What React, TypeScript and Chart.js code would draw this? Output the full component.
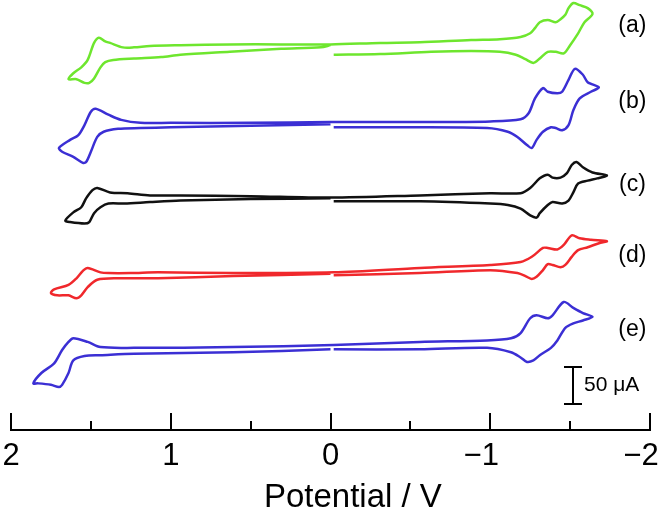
import React, { useEffect, useRef } from 'react';
import { Chart, registerables } from 'chart.js';

Chart.register(...registerables);

const FONT = "'Liberation Sans', Arial, Helvetica, sans-serif";

// Potentials (V) and currents (µA, relative to each trace's baseline)
const E_A = [-0.02,-0.31,-0.63,-0.88,-1.06,-1.16,-1.22,-1.27,-1.31,-1.36,-1.41,-1.46,-1.50,-1.55,-1.59,-1.64,-1.61,-1.56,-1.52,-1.49,-1.47,-1.44,-1.41,-1.36,-1.31,-1.28,-1.25,-1.19,-1.06,-0.88,-0.56,-0.31,0,0.31,0.63,0.94,1.13,1.23,1.30,1.38,1.41,1.45,1.48,1.52,1.56,1.61,1.64,1.59,1.54,1.51,1.48,1.44,1.41,1.36,1.23,1.06,0.94,0.63,0.31,0.06,0];
const I_A = [-9,-8,-5,-4,-5,-9,-15,-20,-14,-5,-5,-7,4,20,35,46,54,58,61,54,45,39,35,38,35,27,20,15,12,11,8,7,5,5,5,4,3,1,1,7,9,14,7,-16,-26,-34,-42,-42,-47,-47,-41,-26,-19,-16,-14,-12,-9,-5,-1,1,4];

const E_B = [-0.02,-0.44,-0.98,-1.11,-1.17,-1.23,-1.26,-1.29,-1.33,-1.38,-1.41,-1.45,-1.49,-1.52,-1.56,-1.63,-1.68,-1.61,-1.58,-1.53,-1.49,-1.45,-1.42,-1.36,-1.33,-1.28,-1.24,-1.19,-1.00,-0.56,0,0.50,1.00,1.19,1.31,1.39,1.47,1.50,1.54,1.58,1.63,1.70,1.68,1.61,1.55,1.53,1.50,1.46,1.42,1.33,1.19,1.00,0.50,0];
const I_B = [-3,-3,-4,-9,-16,-27,-31,-20,-9,-3,-4,-7,0,20,36,45,51,58,68,76,61,45,43,45,50,36,16,8,5,4,4,3,3,3,7,14,22,18,0,-14,-20,-31,-36,-43,-51,-50,-36,-16,-9,-5,-4,-3,-1,1];

const E_C = [-0.02,-0.56,-1.00,-1.11,-1.19,-1.25,-1.29,-1.31,-1.36,-1.39,-1.45,-1.49,-1.52,-1.55,-1.61,-1.67,-1.73,-1.64,-1.58,-1.54,-1.51,-1.48,-1.44,-1.39,-1.36,-1.31,-1.25,-1.19,-1.00,-0.56,0,0.50,0.94,1.13,1.27,1.38,1.46,1.49,1.53,1.56,1.61,1.66,1.63,1.54,1.51,1.48,1.44,1.39,1.29,1.13,0.94,0.50,0];
const I_C = [-4,-4,-7,-9,-14,-23,-26,-20,-9,-5,-7,-3,8,20,24,27,31,35,42,49,45,34,28,28,32,27,14,7,7,4,1,3,4,4,7,8,14,11,0,-12,-19,-30,-32,-34,-32,-20,-12,-7,-7,-5,-3,-1,0];

const E_D = [-0.02,-0.56,-1.00,-1.17,-1.23,-1.26,-1.29,-1.33,-1.36,-1.39,-1.44,-1.47,-1.51,-1.55,-1.61,-1.69,-1.73,-1.63,-1.56,-1.51,-1.46,-1.42,-1.36,-1.33,-1.26,-1.19,-1.00,-0.56,-0.02,0.61,1.08,1.25,1.39,1.44,1.52,1.55,1.59,1.64,1.73,1.75,1.71,1.64,1.59,1.56,1.52,1.46,1.33,1.08,0.61,0];
const I_D = [-3,0,4,0,-5,-8,-5,4,12,11,8,11,22,31,35,41,43,45,47,51,38,32,34,34,22,15,11,7,1,0,1,0,0,1,7,3,-7,-16,-22,-27,-30,-30,-34,-30,-19,-9,-7,-7,-4,-1];

const E_E = [-0.02,-0.56,-0.98,-1.13,-1.19,-1.23,-1.27,-1.31,-1.38,-1.42,-1.47,-1.52,-1.58,-1.64,-1.58,-1.52,-1.46,-1.39,-1.36,-1.29,-1.25,-1.19,-1.13,-0.98,-0.56,-0.02,0.61,1.23,1.44,1.52,1.61,1.64,1.68,1.73,1.81,1.86,1.83,1.75,1.70,1.68,1.64,1.61,1.54,1.44,1.23,0.61,0];
const I_E = [-3,-3,-1,-7,-14,-20,-18,-11,-1,9,26,32,36,41,46,53,61,43,39,43,39,19,12,9,7,3,0,-1,0,7,12,7,-4,-22,-35,-49,-49,-51,-54,-51,-35,-18,-12,-11,-9,-7,-3];

const TRACE_NAMES = ['(a)', '(b)', '(c)', '(d)', '(e)'];
const TRACE_E = [E_A, E_B, E_C, E_D, E_E];
const TRACE_I = [I_A, I_B, I_C, I_D, I_E];
const TRACE_OFFSETS = [516, 412, 313, 212, 112];
const TRACE_COLORS = ['#6ee62e', '#3b2fd4', '#111111', '#f0282c', '#3b2fd4'];

const LABEL_E = -1.89;
const LABEL_Y = [547, 443, 331, 235, 135];

const MAJOR_TICKS = [2, 1, 0, -1, -2];
const MINOR_TICKS = [1.5, 0.5, -0.5, -1.5];
const X_TITLE = 'Potential / V';
const X_TITLE_E = -0.14;

const SCALE_BAR_E = -1.52;
const SCALE_BAR_BOTTOM = 35;
const SCALE_BAR_SIZE = 50;
const SCALE_BAR_TEXT = '50 μA';

const Y_MAX = 581;

const decorPlugin = {
  id: 'decor',
  afterDraw(chart: any) {
    const { ctx, chartArea, scales } = chart;
    const xs = scales.x;
    const ys = scales.y;
    ctx.save();
    ctx.strokeStyle = '#000';
    ctx.fillStyle = '#000';
    ctx.lineWidth = 2;
    const b = chartArea.bottom;
    // tick marks (pointing up into the plot)
    MAJOR_TICKS.forEach((v) => {
      const x = Math.round(xs.getPixelForValue(v));
      ctx.beginPath();
      ctx.moveTo(x, b);
      ctx.lineTo(x, b - 17);
      ctx.stroke();
    });
    MINOR_TICKS.forEach((v) => {
      const x = Math.round(xs.getPixelForValue(v));
      ctx.beginPath();
      ctx.moveTo(x, b);
      ctx.lineTo(x, b - 9);
      ctx.stroke();
    });
    // tick labels: digit centred on tick, minus sign hanging left
    ctx.font = `31px ${FONT}`;
    ctx.textBaseline = 'alphabetic';
    ctx.textAlign = 'left';
    MAJOR_TICKS.forEach((v) => {
      const x = xs.getPixelForValue(v);
      const digits = String(Math.abs(v));
      const label = v < 0 ? '\u2212' + digits : digits;
      const wd = ctx.measureText(digits).width;
      const wl = ctx.measureText(label).width;
      ctx.fillText(label, x + wd / 2 - wl, b + 35);
    });
    // axis title
    ctx.font = `33px ${FONT}`;
    ctx.textAlign = 'center';
    ctx.fillText(X_TITLE, xs.getPixelForValue(X_TITLE_E), b + 77);
    // scale bar
    const sx = Math.round(xs.getPixelForValue(SCALE_BAR_E));
    const y1 = ys.getPixelForValue(SCALE_BAR_BOTTOM);
    const y2 = ys.getPixelForValue(SCALE_BAR_BOTTOM + SCALE_BAR_SIZE);
    ctx.beginPath();
    ctx.moveTo(sx, y1);
    ctx.lineTo(sx, y2);
    ctx.moveTo(sx - 9, y1);
    ctx.lineTo(sx + 9, y1);
    ctx.moveTo(sx - 9, y2);
    ctx.lineTo(sx + 9, y2);
    ctx.stroke();
    ctx.font = `21px ${FONT}`;
    ctx.textAlign = 'left';
    ctx.textBaseline = 'middle';
    ctx.fillText(SCALE_BAR_TEXT, sx + 11, (y1 + y2) / 2);
    // trace labels
    ctx.font = `23px ${FONT}`;
    ctx.textAlign = 'center';
    const lx = xs.getPixelForValue(LABEL_E);
    TRACE_NAMES.forEach((n, i) => {
      ctx.fillText(n, lx, ys.getPixelForValue(LABEL_Y[i]));
    });
    ctx.restore();
  },
};

export default function App() {
  const ref = useRef<HTMLCanvasElement>(null);
  useEffect(() => {
    document.body.style.margin = '0';
    const datasets = TRACE_NAMES.map((name, k) => {
      const E = TRACE_E[k];
      const I = TRACE_I[k];
      const n = Math.min(E.length, I.length);
      const data = [] as { x: number; y: number }[];
      for (let i = 0; i < n; i++) data.push({ x: E[i], y: TRACE_OFFSETS[k] + I[i] });
      return {
        label: name,
        data,
        borderColor: TRACE_COLORS[k],
        backgroundColor: TRACE_COLORS[k],
        borderWidth: 2.5,
        pointRadius: 0,
        tension: 0.3,
        fill: false,
        clip: false as any,
      };
    });
    const chart = new Chart(ref.current!, {
      type: 'line',
      data: { datasets },
      plugins: [decorPlugin],
      options: {
        animation: false,
        responsive: false,
        maintainAspectRatio: false,
        layout: { padding: { left: 11, right: 11, top: 0, bottom: 81 } },
        plugins: { legend: { display: false }, tooltip: { enabled: false } },
        scales: {
          x: {
            type: 'linear',
            min: -2,
            max: 2,
            reverse: true,
            grid: { display: false, drawTicks: false, tickLength: 0 },
            border: { display: true, color: '#000', width: 2 },
            ticks: { display: false, stepSize: 1 },
            title: { display: false },
          },
          y: {
            type: 'linear',
            display: false,
            min: 0,
            max: Y_MAX,
          },
        },
      } as any,
    });
    return () => chart.destroy();
  }, []);
  return (
    <div style={{ width: 661, height: 511 }}>
      <canvas ref={ref} width={661} height={511} style={{ display: 'block' }} />
    </div>
  );
}
